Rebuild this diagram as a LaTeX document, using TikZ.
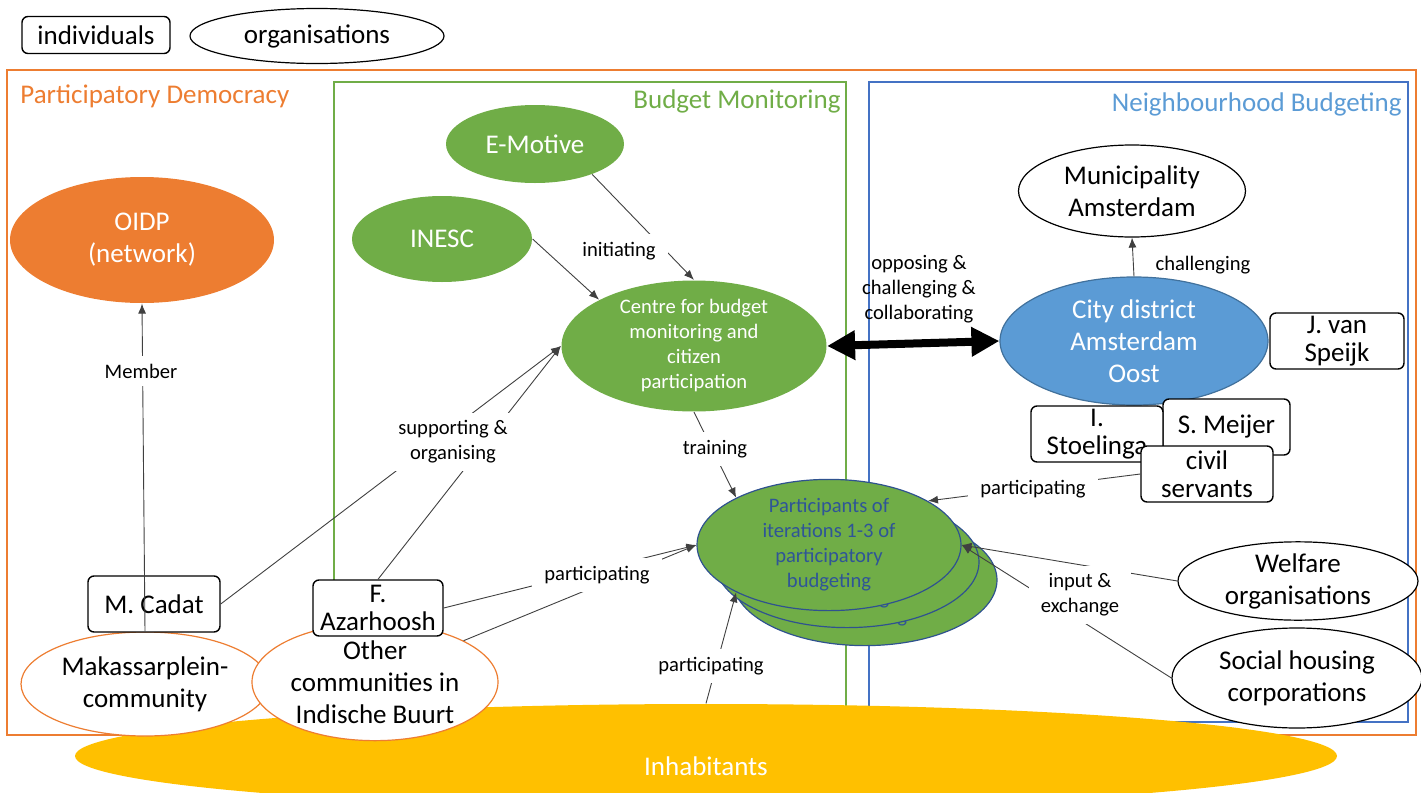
\documentclass[tikz,border=0pt]{standalone}
\usepackage{fontspec}
\setmainfont{Carlito}
\usepackage{tikz}
\usetikzlibrary{shapes.geometric,arrows.meta}

\definecolor{pdorange}{HTML}{ED7D31}
\definecolor{bmgreen}{HTML}{70AD47}
\definecolor{nbblue}{HTML}{5B9BD5}
\definecolor{nbframe}{HTML}{4472C4}
\definecolor{cityedge}{HTML}{41719C}
\definecolor{inhyellow}{HTML}{FFC000}
\definecolor{parttext}{HTML}{2F5597}
\definecolor{partedge}{HTML}{2F528F}

\newcommand{\bigtext}{\fontsize{13.5}{16}\selectfont}
\newcommand{\boxtext}{\fontsize{13.5}{14}\selectfont}
\newcommand{\smalltext}{\fontsize{10.3}{12.5}\selectfont}

\tikzset{
	org/.style={ellipse, draw, line width=0.6pt, fill=white, inner sep=0pt, align=center, font=\bigtext},
	greenorg/.style={org, draw=none, fill=bmgreen, text=white},
	community/.style={org, draw=pdorange},
	partorg/.style={org, draw=partedge, fill=bmgreen, text=parttext, font=\smalltext, minimum width=132pt, minimum height=63pt},
	person/.style={rectangle, rounded corners=3pt, draw, line width=0.7pt, fill=white, inner sep=0pt, align=center, font=\boxtext, minimum width=66pt, minimum height=28pt},
	rel/.style={font=\smalltext, fill=white, align=center, inner xsep=6pt, inner ysep=4pt},
	note/.style={font=\smalltext, align=center, inner sep=0pt},
	title/.style={font=\bigtext, inner sep=0pt},
	link/.style={draw=black!75, line width=0.45pt},
	arr/.style={link, -{Latex[length=5pt,width=4pt]}},
	frame/.style={line width=0.75pt},
}

\begin{document}
\begin{tikzpicture}[x=0.5pt, y=-0.5pt]
	\useasboundingbox (0,0) rectangle (1421,793);
	\clip (0,0) rectangle (1421,793);

	% legend
	\node[person, font=\bigtext, minimum width=74pt, minimum height=18.5pt] (indiv) at (96,35) {individuals};
	\node[org, minimum width=127pt, minimum height=27.5pt] (orgs) at (317,36) {organisations};

	% frames
	\draw[frame, pdorange] (7,70) rectangle (1416,735);
	\draw[frame, bmgreen] (334,82) rectangle (846,722);
	\draw[frame, nbframe] (869,82) rectangle (1408,722);
	\node[title, anchor=west, text=pdorange] (tpd) at (20,96) {Participatory Democracy};
	\node[title, anchor=east, text=bmgreen] (tbm) at (841,101) {Budget Monitoring};
	\node[title, anchor=east, text=nbblue] (tnb) at (1402,104) {Neighbourhood Budgeting};

	% organisations
	\node[org, draw=none, fill=pdorange, text=white, minimum width=132pt, minimum height=63pt] (oidp) at (142,240) {OIDP\\(network)};
	\node[greenorg, minimum width=89pt, minimum height=39pt] (emotive) at (535,144) {E-Motive};
	\node[greenorg, minimum width=90pt, minimum height=43pt] (inesc) at (442,239) {INESC};
	\node[greenorg, font=\smalltext, minimum width=132.5pt, minimum height=63.5pt] (centre) at (694,346) {Centre for budget\\monitoring and\\citizen\\participation};
	\node[org, minimum width=113.5pt, minimum height=46pt] (muni) at (1132,191) {Municipality\\Amsterdam};
	\node[org, draw=cityedge, fill=nbblue, text=white, minimum width=134pt, minimum height=64pt] (city) at (1134,341) {City district\\Amsterdam\\Oost};
	\node[org, minimum width=120pt, minimum height=39pt] (welfare) at (1298,581) {Welfare\\organisations};
	\node[org, minimum width=125pt, minimum height=50pt] (social) at (1297,678) {Social housing\\corporations};

	\node[partorg] (partc) at (865,580) {Participants of\\iterations 1-3 of\\participatory\\budgeting};
	\node[partorg] (partb) at (847,562) {Participants of\\iterations 1-3 of\\participatory\\budgeting};
	\node[partorg] (part) at (829,545) {Participants of\\iterations 1-3 of\\participatory\\budgeting};

	\node[org, draw=none, fill=inhyellow, text=white, minimum width=631pt, minimum height=52pt, text height=19pt, text depth=0pt] (inhab) at (706,756) {Inhabitants};
	\node[community, minimum width=124pt, minimum height=52pt] (mak) at (145,684) {Makassarplein-\\community};
	\node[community, minimum width=123pt, minimum height=50pt] (other) at (375,682) {Other\\communities in\\Indische Buurt};

	% individuals
	\node[person] (cadat) at (154,604) {M. Cadat};
	\node[person, minimum width=65pt] (faz) at (378,608) {F.\\Azarhoosh};
	\node[person, minimum width=67pt] (speijk) at (1337,341) {J. van\\Speijk};
	\node[person, minimum width=63.5pt] (meijer) at (1226.5,427) {S. Meijer};
	\node[person] (stoelinga) at (1097,434) {I.\\Stoelinga};
	\node[person] (civil) at (1207,474) {civil\\servants};

	% relations
	\draw[arr] (mak.north) -- (oidp.south);
	\draw[arr] (cadat.east) -- (centre.west);
	\draw[arr] (faz.north) -- (centre.west);
	\draw[arr] (emotive.-28) -- (centre.north);
	\draw[arr] (inesc.east) -- (centre.154);
	\draw[arr] (centre.south) -- (part.153);
	\draw[arr] (faz.east) -- (part.west);
	\draw[arr] (other.25) -- (part.west);
	\draw[arr] (inhab.north) -- (part.207);
	\draw[arr] (civil.west) -- (part.24);
	\draw[arr] (welfare.west) -- (part.east);
	\draw[arr] (social.west) -- (part.east);
	\draw[arr] (city.north) -- (muni.south);
	\draw[{Triangle[length=14pt,width=14pt]}-{Triangle[length=14pt,width=14pt]}, line width=4pt] (centre.east) -- (city.west);

	\node[rel] (lmember) at (141,371) {Member};
	\node[rel] (lsupp) at (453,442) {supporting \&\\organising};
	\node[rel] (linit) at (619,251) {initiating};
	\node[rel] (ltrain) at (715,449) {training};
	\node[note] (lopp) at (919,289) {opposing \&\\challenging \&\\collaborating};
	\node[note] (lchal) at (1203,265) {challenging};
	\node[rel] (lpartciv) at (1033,489) {participating};
	\node[rel] (lpartcom) at (597,575) {participating};
	\node[rel] (lpartinh) at (711,666) {participating};
	\node[rel] (linput) at (1080,595) {input \&\\exchange};
\end{tikzpicture}
\end{document}
